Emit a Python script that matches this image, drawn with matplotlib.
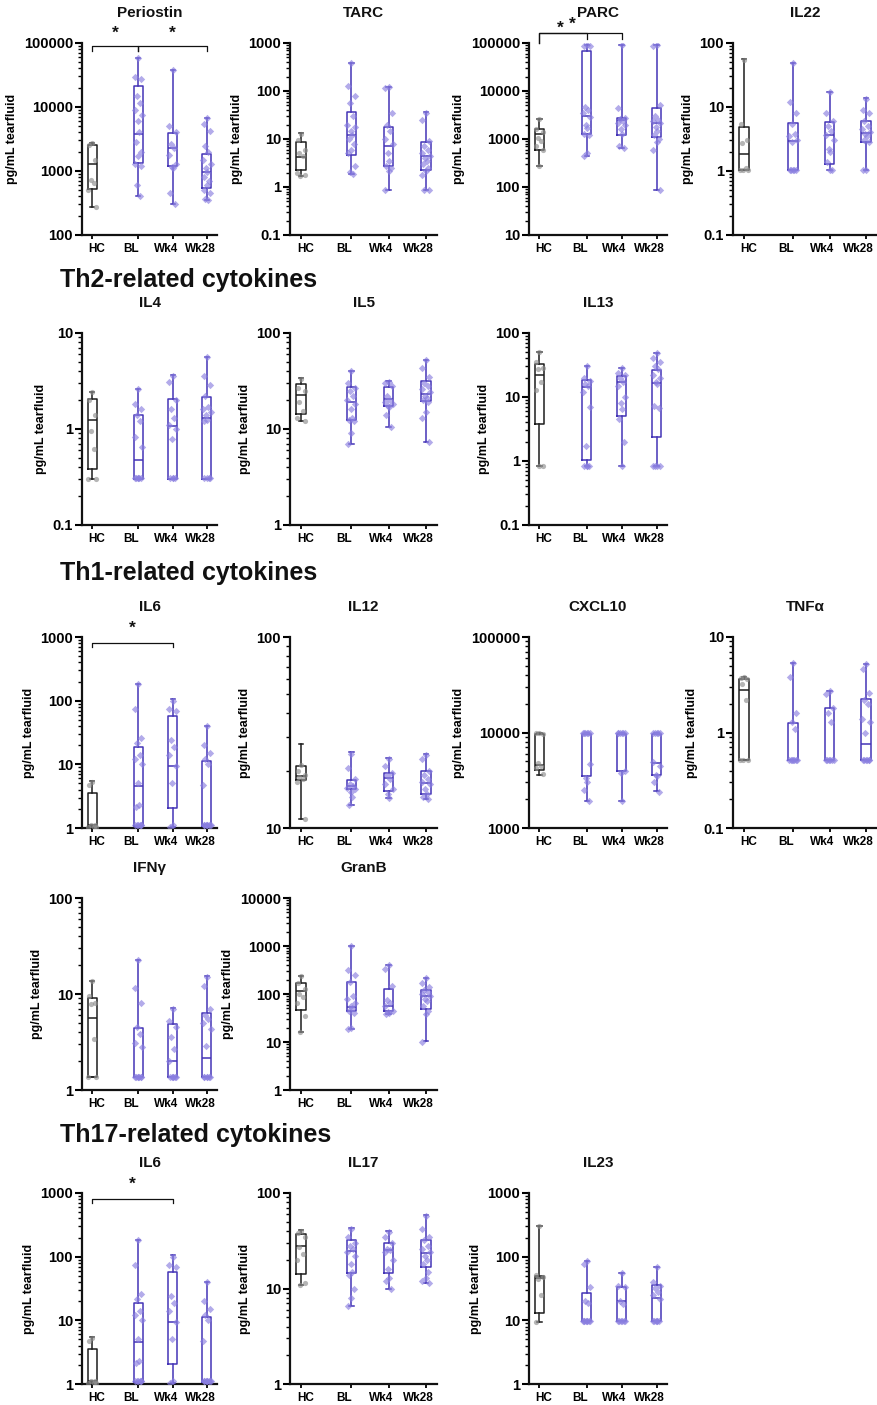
import matplotlib

matplotlib.use("Agg")

import matplotlib.pyplot as plt  # noqa: E402
import numpy as np  # noqa: E402
from matplotlib.ticker import FixedLocator, FuncFormatter, LogLocator, NullFormatter  # noqa: E402

# ── Groups ────────────────────────────────────────────────────────────────────
GROUPS = ["HC", "BL", "Wk4", "Wk28"]
YLABEL = "pg/mL tearfluid"

# box stats per group: (min, q1, median, q3, max); points = individual samples
periostin_box = [(270, 520, 1280, 2550, 2700), (410, 1320, 3850, 21500, 58000),
                 (300, 1200, 2300, 3900, 38000), (350, 550, 970, 1870, 6700)]
periostin_pts = [[2700, 2550, 1500, 720, 660, 500, 270],
                 [58000, 29000, 27000, 15000, 11500, 9000, 7500, 6000, 4000, 2800,
                  2000, 1700, 1300, 1200, 600, 410],
                 [38000, 5000, 4000, 2600, 2300, 1800, 1300, 1150, 1100, 460, 300],
                 [6700, 5500, 4200, 2500, 2000, 1500, 1300, 1100, 950, 800, 700, 600,
                  500, 450, 370, 350]]

tarc_box = [(1.7, 2.3, 4.3, 8.5, 13.5), (1.9, 4.7, 12, 37, 390),
            (0.85, 2.8, 7.3, 18, 120), (0.85, 2.3, 4.4, 8.5, 36)]
tarc_pts = [[13, 9.5, 6, 5, 4.5, 2, 1.8, 1.7],
            [390, 125, 80, 55, 30, 20, 18, 15, 12, 10, 8, 6, 5, 2.7, 2.1, 1.9],
            [120, 118, 35, 20, 15, 10, 8, 5, 3.5, 2.8, 2.5, 2.2, 0.85],
            [35, 25, 9, 7, 6, 5, 4.5, 4, 3.5, 3, 2.5, 2.2, 1.8, 0.85, 0.85]]

parc_box = [(270, 600, 1300, 1650, 2600), (450, 1300, 3000, 67000, 90000),
            (640, 1220, 2450, 2800, 90000), (88, 1100, 2200, 4400, 90000)]
parc_pts = [[2600, 1600, 1400, 1050, 900, 700, 600, 270],
            [90000, 88000, 86000, 4700, 4000, 3500, 2900, 2000, 1700, 1300, 1200, 500, 450],
            [90000, 4500, 2800, 2600, 2400, 2200, 2000, 1600, 1300, 700, 650],
            [90000, 88000, 5000, 3000, 2500, 2400, 2200, 1800, 1500, 1200, 1000, 850,
             600, 88]]

il22_box = [(1.05, 1.05, 1.85, 4.8, 56), (1.05, 1.05, 2.95, 5.6, 48),
            (1.05, 1.3, 3.6, 5.8, 17.3), (1.05, 2.8, 3.9, 6.1, 13.6)]
il22_pts = [[55, 5.5, 3, 2.7, 1.1, 1.05, 1.05, 1.05],
            [48, 12, 8, 5.5, 3.8, 3.5, 3, 2.8, 1.05, 1.05, 1.05, 1.05, 1.05],
            [17, 8, 6, 5, 4.2, 3.7, 3.0, 2.2, 2.0, 1.4, 1.05, 1.05],
            [13.5, 9, 8, 6, 5, 4.5, 4, 3.8, 3.5, 3, 2.8, 1.05, 1.05]]

il4_box = [(0.30, 0.38, 1.25, 2.07, 2.44), (0.30, 0.30, 0.48, 1.39, 2.62),
           (0.30, 0.30, 1.07, 2.05, 3.64), (0.30, 0.30, 1.31, 2.16, 5.6)]
il4_pts = [[2.4, 2.0, 1.4, 0.95, 0.62, 0.30, 0.30],
           [2.6, 1.8, 1.6, 1.4, 1.2, 0.82, 0.65, 0.31, 0.31, 0.31, 0.31, 0.31, 0.31],
           [3.6, 3.1, 2.0, 1.6, 1.3, 1.1, 1.0, 0.78, 0.31, 0.31, 0.31, 0.31],
           [5.6, 3.6, 2.9, 2.2, 1.7, 1.6, 1.5, 1.4, 1.25, 1.2, 0.31, 0.31, 0.31, 0.31]]

il5_box = [(12.1, 14.4, 22.4, 29.1, 34.2), (7.0, 12.5, 19, 27.3, 40),
           (10.5, 17.2, 20.6, 27.3, 32), (7.3, 19.8, 22.9, 31.6, 52.7)]
il5_pts = [[33, 27, 25, 19, 15.5, 13, 12],
           [40, 30, 27, 25, 22, 20, 18, 16, 13, 12.5, 12, 9, 7],
           [31, 30, 28, 22, 20, 19, 18, 17.5, 17, 14, 10.5],
           [52, 43, 35, 30, 28, 26, 24, 22, 21, 20, 19, 15, 13, 7.3]]

il13_box = [(0.83, 3.74, 22.3, 32.9, 50), (0.83, 1.05, 14.5, 18.4, 31),
            (0.83, 5.06, 17, 21.6, 28.4), (0.83, 2.37, 16.3, 26.8, 48.4)]
il13_pts = [[50, 35, 28, 27, 17, 13, 0.85, 0.85],
            [30, 20, 18, 16, 15, 12, 7, 1.7, 0.85, 0.85, 0.85, 0.85],
            [28, 24, 22, 20, 17, 15, 10, 8, 6.5, 4.5, 2.0, 0.85],
            [48, 40, 35, 30, 27, 22, 20, 17, 16, 7.2, 6.8, 0.85, 0.85, 0.85, 0.85]]

il6_box = [(1.04, 1.06, 1.1, 3.55, 5.4), (1.04, 1.06, 4.57, 18.7, 185),
           (1.04, 2.06, 9.4, 56.7, 105), (1.04, 1.06, 1.1, 11.1, 40)]
il6_pts = [[5.3, 4.8, 1.1, 1.1, 1.05, 1.05, 1.05],
           [180, 75, 26, 22, 14, 12, 10, 5, 2.3, 2.1, 1.1, 1.1, 1.1, 1.1, 1.1, 1.1],
           [100, 75, 68, 24, 19, 14, 9.5, 5, 1.1, 1.05],
           [40, 20, 15, 12, 10, 4.8, 1.1, 1.1, 1.1, 1.1, 1.1, 1.1, 1.1, 1.1]]

il12_box = [(11.2, 17.9, 18.7, 21.0, 27.5), (13.2, 16.0, 16.5, 17.8, 24.9),
            (14.3, 15.6, 18.3, 19.4, 23.2), (14.1, 15.1, 17.3, 20.0, 24.5)]
il12_pts = [[21.5, 20, 19, 18.5, 18, 17.5, 11.2],
            [24.5, 20.5, 18, 17, 16.5, 16.2, 16, 15.5, 14.5, 13.2],
            [23, 21, 19.5, 19, 18, 17, 16, 15, 14.3],
            [24, 23, 20, 19, 18, 17.5, 17, 16, 15, 14.5, 14.1]]

cxcl10_box = [(3620, 4010, 4600, 9600, 9800), (1920, 3500, 9700, 9700, 9800),
              (1920, 3950, 9700, 9700, 9800), (2430, 3620, 4780, 9700, 9800)]
cxcl10_pts = [[9800, 9800, 9700, 4800, 4500, 4300, 3700],
              [9800, 9800, 9800, 9800, 9800, 9800, 4700, 3300, 3000, 2500, 1900],
              [9800, 9800, 9800, 9800, 9800, 9800, 4000, 3800, 1900],
              [9800, 9800, 9800, 9800, 9800, 4900, 4500, 3600, 3500, 3000, 2400]]

tnfa_box = [(0.51, 0.51, 2.78, 3.66, 3.8), (0.51, 0.51, 0.51, 1.26, 5.38),
            (0.51, 0.51, 0.51, 1.82, 2.71), (0.51, 0.51, 0.76, 2.22, 5.2)]
tnfa_pts = [[3.8, 3.7, 3.6, 3.2, 2.2, 0.52, 0.52, 0.52],
            [5.3, 3.8, 1.6, 1.3, 1.1, 0.52, 0.52, 0.52, 0.52, 0.52, 0.52, 0.52],
            [2.7, 2.5, 1.8, 1.6, 1.3, 0.52, 0.52, 0.52, 0.52, 0.52, 0.52],
            [5.2, 4.6, 2.6, 2.2, 2.0, 1.4, 1.3, 1.0, 0.52, 0.52, 0.52, 0.52, 0.52, 0.52]]

ifng_box = [(1.35, 1.36, 5.6, 9.05, 13.7), (1.35, 1.36, 1.36, 4.4, 22.7),
            (1.35, 1.36, 2.0, 4.85, 7.1), (1.35, 1.36, 2.14, 6.3, 15.5)]
ifng_pts = [[13.5, 9.5, 8, 7.8, 3.4, 1.35, 1.35],
            [22.5, 11.5, 8, 4.5, 3.8, 3.1, 2.8, 1.35, 1.35, 1.35, 1.35, 1.35, 1.35, 1.35],
            [7, 5.2, 4.5, 3.6, 2.7, 2.0, 1.35, 1.35, 1.35, 1.35, 1.35, 1.35],
            [15, 12, 7, 6, 5.5, 5, 4.3, 2.9, 1.35, 1.35, 1.35, 1.35, 1.35, 1.35]]

granb_box = [(16.5, 46.7, 113, 168, 240), (19, 45.3, 54.8, 177, 980),
             (38, 44, 55, 126, 400), (10.5, 48, 88.8, 122, 220)]
granb_pts = [[240, 170, 130, 100, 85, 65, 35, 16],
             [980, 320, 250, 180, 90, 80, 65, 55, 50, 45, 40, 20, 19],
             [400, 330, 150, 75, 65, 55, 45, 42, 40, 38],
             [220, 170, 140, 120, 110, 100, 90, 80, 70, 55, 45, 38, 10]]

il17_box = [(10.8, 14.3, 28.1, 37.6, 40.7), (6.5, 14.7, 24.5, 32.5, 43.4),
            (9.8, 14.7, 25.2, 30, 40), (11.5, 16.6, 23.6, 32.5, 58.4)]
il17_pts = [[40, 38, 35, 27, 23, 20, 11.5, 10.8],
            [42, 35, 30, 28, 26, 24, 22, 18, 15, 14, 10, 8, 6.5],
            [39, 35, 30, 26, 25, 24, 20, 16, 13, 12, 9.8],
            [57, 42, 35, 32, 28, 26, 24, 22, 20, 18, 15, 13, 12, 11.5]]

il23_box = [(9.45, 13.2, 46.7, 49.6, 308), (9.5, 9.6, 9.6, 27.2, 87),
            (9.6, 9.6, 20.1, 33.4, 54.6), (9.6, 9.6, 22.7, 35.9, 69.4)]
il23_pts = [[300, 52, 48, 45, 25, 9.5],
            [87, 78, 33, 20, 19, 9.6, 9.6, 9.6, 9.6, 9.6, 9.6, 9.6, 9.6],
            [55, 34, 33, 20, 18, 9.6, 9.6, 9.6, 9.6, 9.6, 9.6],
            [68, 40, 35, 32, 28, 25, 22, 9.6, 9.6, 9.6, 9.6, 9.6, 9.6]]

# ── Style ─────────────────────────────────────────────────────────────────────
INK = "#111111"
HC_LINE, HC_DOT = "#1c1c1c", "#8e8e8e"
PT_LINE, PT_DOT = "#4434b6", "#8a7fe0"

W_PX, H_PX = 877, 1405
COL_X = [(82, 217), (290, 437), (529, 667), (733, 877)]
ROW_Y = [(43, 235), (333, 525), (637, 828), (898, 1090), (1193, 1384)]

POS = [0.0, 1.35, 2.35, 3.35]          # box centres (HC set apart)
LABEL_POS = [0.13, 1.15, 2.15, 3.15]   # group names sit on an even grid
XLIM = (-0.3, 3.65)
JITTER = [0, -0.09, 0.09, -0.045, 0.045, -0.11, 0.11, -0.02, 0.02, -0.07, 0.07]

plt.rcParams.update({
    "font.family": ["Liberation Sans", "DejaVu Sans"],
    "font.weight": "bold",
    "axes.titleweight": "bold",
    "axes.labelweight": "bold",
    "text.color": INK,
})


def _axes(fig, row, col):
    (x0, x1), (y0, y1) = COL_X[col], ROW_Y[row]
    return fig.add_axes([x0 / W_PX, 1 - y1 / H_PX, (x1 - x0) / W_PX, (y1 - y0) / H_PX])


def _panel(ax, title, boxes, points, dec):
    for i, (st, pts) in enumerate(zip(boxes, points)):
        line, dot = (HC_LINE, HC_DOT) if i == 0 else (PT_LINE, PT_DOT)
        lo, q1, med, q3, hi = st
        stats = [{"whislo": lo, "q1": q1, "med": med, "q3": q3, "whishi": hi, "fliers": []}]
        lp = {"color": line, "linewidth": 1.1}
        ax.bxp(stats, positions=[POS[i]], widths=0.26, capwidths=0.12,
               showfliers=False, boxprops=lp, whiskerprops=lp, capprops=lp,
               medianprops=lp, zorder=3)
        xs = POS[i] + np.resize(JITTER, len(pts))
        ax.scatter(xs, pts, s=14, marker="o" if i == 0 else "D", color=dot,
                   alpha=0.65, linewidths=0, zorder=4)

    ax.set_yscale("log")
    ax.set_ylim(10.0 ** dec[0], 10.0 ** dec[1])
    ax.set_xlim(*XLIM)
    ax.yaxis.set_major_locator(FixedLocator([10.0 ** k for k in range(dec[0], dec[1] + 1)]))
    ax.yaxis.set_major_formatter(FuncFormatter(lambda v, _p: f"{v:g}"))
    ax.yaxis.set_minor_locator(LogLocator(base=10, subs=range(2, 10), numticks=30))
    ax.yaxis.set_minor_formatter(NullFormatter())
    # short tick marks under each box, names on their own (unmarked) grid
    ax.set_xticks(POS)
    ax.set_xticklabels([])
    ax.set_xticks(LABEL_POS, minor=True)
    ax.set_xticklabels(GROUPS, minor=True, fontsize=8.5)
    ax.tick_params(axis="y", which="major", length=5, width=1.5, labelsize=10.5, pad=1.5)
    ax.tick_params(axis="y", which="minor", length=3, width=1.0)
    ax.tick_params(axis="x", which="major", length=3, width=1.3)
    ax.tick_params(axis="x", which="minor", length=0, pad=6)
    for sp in ("top", "right"):
        ax.spines[sp].set_visible(False)
    for sp in ("left", "bottom"):
        ax.spines[sp].set_linewidth(1.6)
        ax.spines[sp].set_color(INK)
    ax.set_ylabel(YLABEL, fontsize=9, labelpad=4)
    ax.set_title(title, fontsize=11, pad=19)


def _bracket(ax, i, j, y, drop_i, drop_j, star_x=None, star_y=None):
    tr = ax.get_xaxis_transform()
    xi, xj = POS[i], POS[j]
    ax.plot([xi, xi, xj, xj], [drop_i, y, y, drop_j], color=INK, lw=0.9,
            transform=tr, clip_on=False)
    if star_y is not None:
        sx = (xi + xj) / 2 if star_x is None else star_x
        ax.text(sx, star_y, "*", transform=tr, ha="center", va="center",
                fontsize=12.5, fontweight="bold")


fig = plt.figure(figsize=(W_PX / 100, H_PX / 100), dpi=100)

# Row 1 — type-2 / epithelial markers
ax = _axes(fig, 0, 0)
_panel(ax, "Periostin", periostin_box, periostin_pts, (2, 5))
_bracket(ax, 0, 1, 0.986, 0.957, 0.957, star_y=1.05)
_bracket(ax, 1, 3, 0.986, 0.957, 0.957, star_y=1.05)

_panel(_axes(fig, 0, 1), "TARC", tarc_box, tarc_pts, (-1, 3))

ax = _axes(fig, 0, 2)
_panel(ax, "PARC", parc_box, parc_pts, (1, 5))
_bracket(ax, 0, 2, 1.052, 1.0, 1.021, star_x=0.95, star_y=1.10)
_bracket(ax, 0, 1, 1.052, 1.0, 1.021, star_x=0.6, star_y=1.075)

_panel(_axes(fig, 0, 3), "IL22", il22_box, il22_pts, (-1, 2))

# Row 2 — Th2
fig.text(60 / W_PX, 1 - 280 / H_PX, "Th2-related cytokines", fontsize=18,
         fontweight="bold", va="center", ha="left")
_panel(_axes(fig, 1, 0), "IL4", il4_box, il4_pts, (-1, 1))
_panel(_axes(fig, 1, 1), "IL5", il5_box, il5_pts, (0, 2))
_panel(_axes(fig, 1, 2), "IL13", il13_box, il13_pts, (-1, 2))

# Rows 3-4 — Th1
fig.text(60 / W_PX, 1 - 573 / H_PX, "Th1-related cytokines", fontsize=18,
         fontweight="bold", va="center", ha="left")
ax = _axes(fig, 2, 0)
_panel(ax, "IL6", il6_box, il6_pts, (0, 3))
_bracket(ax, 0, 2, 0.97, 0.948, 0.948, star_y=1.045)
_panel(_axes(fig, 2, 1), "IL12", il12_box, il12_pts, (1, 2))
_panel(_axes(fig, 2, 2), "CXCL10", cxcl10_box, cxcl10_pts, (3, 5))
_panel(_axes(fig, 2, 3), "TNFα", tnfa_box, tnfa_pts, (-1, 1))
_panel(_axes(fig, 3, 0), "IFNγ", ifng_box, ifng_pts, (0, 2))
_panel(_axes(fig, 3, 1), "GranB", granb_box, granb_pts, (0, 4))

# Row 5 — Th17
fig.text(60 / W_PX, 1 - 1135 / H_PX, "Th17-related cytokines", fontsize=18,
         fontweight="bold", va="center", ha="left")
ax = _axes(fig, 4, 0)
_panel(ax, "IL6", il6_box, il6_pts, (0, 3))
_bracket(ax, 0, 2, 0.97, 0.948, 0.948, star_y=1.045)
_panel(_axes(fig, 4, 1), "IL17", il17_box, il17_pts, (0, 2))
_panel(_axes(fig, 4, 2), "IL23", il23_box, il23_pts, (0, 3))

fig.savefig("out.png", dpi=100)
